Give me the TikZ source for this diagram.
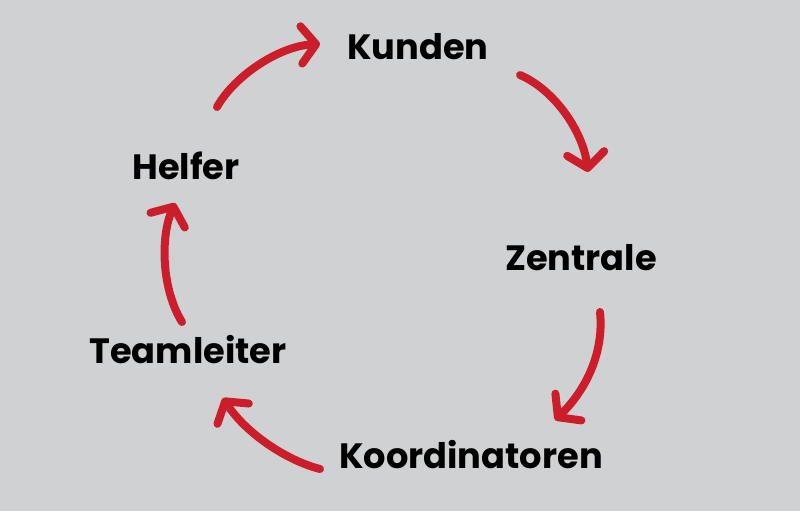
\documentclass[tikz,border=0pt]{standalone}
\usepackage{fontspec}
\setmainfont{Poppins}
\usetikzlibrary{arrows.meta}
\definecolor{bggray}{RGB}{208,209,210}
\definecolor{kreisrot}{RGB}{204,30,42}
\tikzset{
  rolle/.style={font=\fontsize{26.4}{31}\selectfont\bfseries, text=black, inner sep=0pt},
  pfeil/.style={draw=kreisrot, line width=6pt, line cap=round,
    -{Straight Barb[length=11pt, width=28pt, line cap=round, line join=round]}}
}
\begin{document}
\begin{tikzpicture}[x=0.75pt, y=-0.75pt]
    % Hintergrund
    \fill[bggray] (0,0) rectangle (800,511);

    % Rollen im Kreis
    \node[rolle] (kunden) at (418,47) {Kunden};
    \node[rolle] (zentrale) at (581,258) {Zentrale};
    \node[rolle] (koord) at (471,455) {Koordinatoren};
    \node[rolle] (team) at (188,350) {Teamleiter};
    \node[rolle] (helfer) at (186,166) {Helfer};

    % Pfeile im Uhrzeigersinn
    \draw[pfeil] ([shift={(31,-59)}]helfer.center) .. controls (235,75) and (280,46) .. ([shift={(-98,-3)}]kunden.center);
    \draw[pfeil] ([shift={(102,28)}]kunden.center) .. controls (555,90) and (583,132) .. ([shift={(7,-86)}]zentrale.center);
    \draw[pfeil] ([shift={(19,54)}]zentrale.center) .. controls (604,350) and (588,388) .. ([shift={(84,-35)}]koord.center);
    \draw[pfeil] ([shift={(-151,14)}]koord.center) .. controls (285,460) and (245,432) .. ([shift={(35,48)}]team.center);
    \draw[pfeil] ([shift={(-6,-28)}]team.center) .. controls (162,290) and (160,238) .. ([shift={(-11,37)}]helfer.center);
\end{tikzpicture}
\end{document}
